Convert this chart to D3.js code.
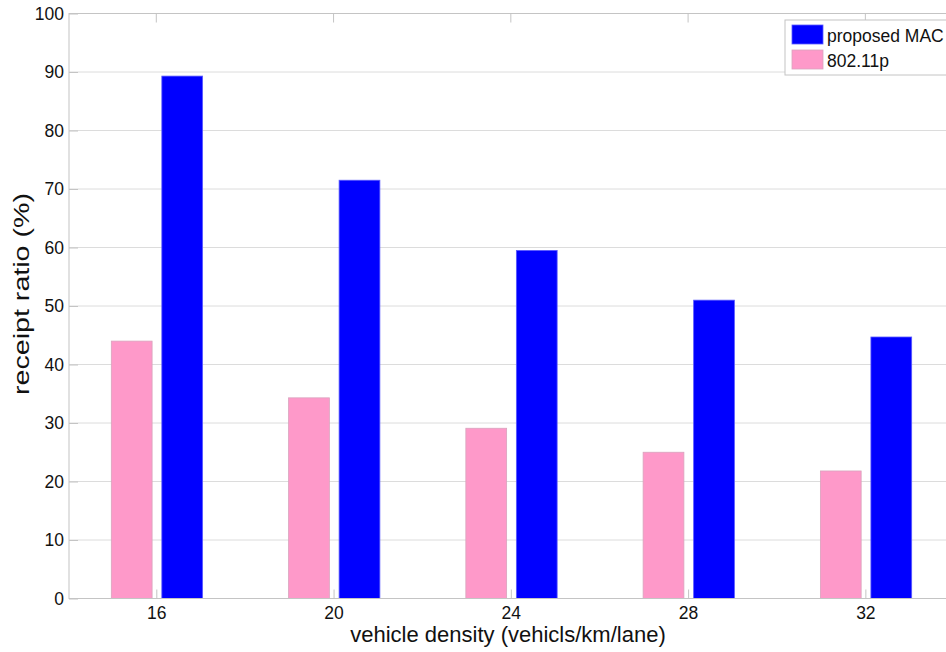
<!DOCTYPE html>
<html>
<head>
<meta charset="utf-8">
<script src="https://cdn.jsdelivr.net/npm/d3@7/dist/d3.min.js"></script>
<style>
  html, body { margin: 0; padding: 0; background: #fff; }
  svg { display: block; font-family: "Liberation Sans", Arial, sans-serif; }
</style>
</head>
<body>
<svg id="chart" width="946" height="652"></svg>
<script>
// Vehicle densities on the x axis (vehicles/km/lane)
const densities = [16, 20, 24, 28, 32];
// Receipt ratio (%) for each MAC scheme
const proposedMAC = [89.3, 71.5, 59.5, 51.0, 44.7];
const ieee80211p = [44.0, 34.3, 29.1, 25.0, 21.8];
const seriesNames = ["proposed MAC", "802.11p"];
const yTicks = [0, 10, 20, 30, 40, 50, 60, 70, 80, 90, 100];

const svg = d3.select("#chart");
const plotLeft = 69, plotTop = 13.5, plotBottom = 598.5, plotRight = 954;

const x = d3.scaleLinear().domain([14.03, 34]).range([plotLeft, plotRight]);
const y = d3.scaleLinear().domain([0, 100]).range([plotBottom, plotTop]);

const pink = "#fe99c9", blue = "#0000ff";

// grid lines
svg.append("g").selectAll("line").data(yTicks.slice(1, -1)).join("line")
  .attr("x1", plotLeft).attr("x2", plotRight)
  .attr("y1", d => y(d)).attr("y2", d => y(d))
  .attr("stroke", "#dcdcdc").attr("stroke-width", 1);

// bar geometry in data units (grouped bars around each density)
const barW = 0.92;
const pinkOff = -0.555, blueOff = 0.585;

svg.append("g").selectAll("rect").data(densities.map((d, i) => ({d, v: ieee80211p[i]}))).join("rect")
  .attr("x", o => x(o.d + pinkOff - barW / 2))
  .attr("width", o => x(o.d + barW) - x(o.d))
  .attr("y", o => y(o.v))
  .attr("height", o => y(0) - y(o.v))
  .attr("fill", pink).attr("stroke", "#d9a3bd").attr("stroke-width", 0.8);

svg.append("g").selectAll("rect").data(densities.map((d, i) => ({d, v: proposedMAC[i]}))).join("rect")
  .attr("x", o => x(o.d + blueOff - barW / 2))
  .attr("width", o => x(o.d + barW) - x(o.d))
  .attr("y", o => y(o.v))
  .attr("height", o => y(0) - y(o.v))
  .attr("fill", blue).attr("stroke", "#5a5aff").attr("stroke-width", 0.8);

// axes box
svg.append("rect")
  .attr("x", plotLeft).attr("y", plotTop)
  .attr("width", plotRight - plotLeft).attr("height", plotBottom - plotTop)
  .attr("fill", "none").attr("stroke", "#c4c4c4").attr("stroke-width", 1);

// x axis (ticks inward)
const xAxis = d3.axisBottom(x).tickValues(densities).tickSize(-9).tickPadding(8);
const gx = svg.append("g").attr("transform", `translate(0,${plotBottom})`).call(xAxis);
gx.select(".domain").remove();
gx.selectAll(".tick line").attr("stroke", "#c4c4c4");
gx.selectAll(".tick text").attr("font-size", 17.5).attr("fill", "#111");

// top ticks
svg.append("g").selectAll("line").data(densities).join("line")
  .attr("x1", d => x(d)).attr("x2", d => x(d))
  .attr("y1", plotTop).attr("y2", plotTop + 9)
  .attr("stroke", "#c4c4c4");

// y axis (ticks inward)
const yAxis = d3.axisLeft(y).tickValues(yTicks).tickSize(-9).tickPadding(5);
const gy = svg.append("g").attr("transform", `translate(${plotLeft},0)`).call(yAxis);
gy.select(".domain").remove();
gy.selectAll(".tick line").attr("stroke", "#c4c4c4");
gy.selectAll(".tick text").attr("font-size", 17.5).attr("fill", "#111");

// axis titles
svg.append("text")
  .attr("x", 508).attr("y", 642)
  .attr("text-anchor", "middle").attr("font-size", 22).attr("fill", "#111")
  .text("vehicle density (vehicls/km/lane)");

svg.append("text")
  .attr("transform", "translate(29,294) rotate(-90)")
  .attr("text-anchor", "middle").attr("font-size", 22).attr("fill", "#111")
  .attr("textLength", 202).attr("lengthAdjust", "spacingAndGlyphs")
  .text("receipt ratio (%)");

// legend
const lg = svg.append("g");
lg.append("rect")
  .attr("x", 785).attr("y", 20).attr("width", 175).attr("height", 55)
  .attr("fill", "#fff").attr("stroke", "#c4c4c4");
const legendColors = [blue, pink];
seriesNames.forEach((name, i) => {
  lg.append("rect")
    .attr("x", 792).attr("y", 25 + i * 25).attr("width", 31).attr("height", 19)
    .attr("fill", legendColors[i]).attr("stroke", i === 0 ? "#5a5aff" : "#d9a3bd").attr("stroke-width", 0.8);
  lg.append("text")
    .attr("x", 827).attr("y", 42 + i * 25)
    .attr("font-size", 17.5).attr("fill", "#111")
    .text(name);
});
</script>
</body>
</html>
